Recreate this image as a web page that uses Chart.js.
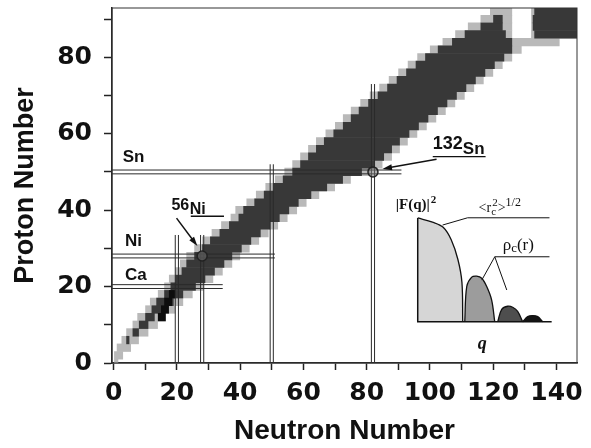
<!DOCTYPE html>
<html>
<head>
<meta charset="utf-8">
<script src="https://cdn.jsdelivr.net/npm/chart.js@4.4.0/dist/chart.umd.min.js"></script>
<style>
  html, body { margin: 0; padding: 0; background: #fff; }
  canvas { display: block; }
</style>
</head>
<body>
<canvas id="chart" width="591" height="448"></canvas>
<script>
// nuclide band, one row per even proton number (each row covers Z-1 .. Z+1)
const protonRows = [0, 2, 4, 6, 8, 10, 12, 14, 16, 18, 20, 22, 24, 26, 28, 30, 32, 34, 36, 38, 40, 42, 44, 46,
  48, 50, 52, 54, 56, 58, 60, 62, 64, 66, 68, 70, 72, 74, 76, 78, 80, 82, 84, 86, 88, 90, 92];
const lightStart = [0, 0, 1, 2.5, 4, 6, 7.5, 10, 11.5, 14, 16, 17.5, 19.5, 21, 23, 25.5, 28, 31, 34, 37, 38.5, 42, 45, 48,
  51, 54, 56.5, 59, 61.5, 64, 67, 70, 72.5, 75, 78, 81, 84, 87, 90, 93, 96, 100, 104, 108, 112, 116, 119];
const darkStart = [0, 1, 2, 4, 6, 8, 10, 12, 13.5, 16, 18, 19.5, 21.5, 23, 25.5, 28, 30.5, 33.5, 36.5, 39.5, 41, 44.5, 47.5, 50.5,
  53.5, 56.5, 59, 61.5, 64, 66.5, 69.5, 72.5, 75, 77.5, 80.5, 83.5, 86.5, 89.5, 92.5, 95.5, 98.5, 102.5, 107, 111, 116, 120, 122];
const darkEnd = [0, 1, 2, 5, 8, 11, 13, 16, 19, 22, 26, 29, 32, 35, 37.5, 40.5, 43.5, 46.5, 49.5, 52.5, 55.5, 58.5, 62.5, 67.5,
  72.5, 78.5, 82.5, 85.5, 88, 90.5, 93.5, 96.5, 99.5, 102.5, 105.5, 108.5, 111.5, 114.5, 117.5, 120.5, 123.5, 126, 126, 124, 123, 123, 122];
const lightEnd = [1.5, 3, 5.5, 8, 11, 14, 16.5, 19.5, 22, 25, 28.5, 31.5, 34.5, 37.5, 40, 43, 46, 49, 52, 55, 58, 61, 65, 70,
  75, 81, 85, 88, 90.5, 93, 96, 99, 102, 105, 108, 111, 114, 117, 120, 123, 126, 129, 141, 126, 126, 126, 126];

// stable core (black)
const coreRows = [12, 14, 16, 18];
const coreStart = [14, 15, 16, 17.5];
const coreEnd = [16.5, 17.5, 18.5, 19.5];

// heavy island right of the gap
const islandRows = [86, 88, 90, 92];
const islandLightStart = [132, 132, 132, 132];
const islandDarkStart = [133, 132.5, 132.5, 133];
const islandEnd = [146.5, 146.5, 146.5, 146.5];

// magic numbers drawn as double lines
const magicProtons = [20, 28, 50];
const magicProtonReach = [34.5, 51, 91];
const magicNeutrons = [20, 28, 50, 82];
const magicNeutronReach = [33.5, 33.5, 52, 73];

// marked doubly magic nuclei
const markedN = [28, 82];
const markedZ = [28, 50];

// axis ticks
const xTicks = [0, 10, 20, 30, 40, 50, 60, 70, 80, 90, 100, 110, 120, 130, 140];
const yTicks = [0, 10, 20, 30, 40, 50, 60, 70, 80, 90];

// inset: form factor lobes, q and |F|^2 as fractions of the inset box
const lobe1Q = [0, 0.11, 0.19, 0.25, 0.30, 0.33, 0.336];
const lobe1F = [1, 0.96, 0.91, 0.79, 0.60, 0.38, 0];
const lobe2Q = [0.351, 0.366, 0.403, 0.440, 0.478, 0.515, 0.552, 0.575];
const lobe2F = [0, 0.34, 0.43, 0.44, 0.42, 0.34, 0.21, 0];
const lobe3Q = [0.597, 0.627, 0.672, 0.709, 0.746, 0.784];
const lobe3F = [0, 0.12, 0.15, 0.14, 0.10, 0];
const lobe4Q = [0.784, 0.821, 0.858, 0.896, 0.933];
const lobe4F = [0, 0.05, 0.06, 0.05, 0];

const insetBox = { n0: 96.15, z0: 10.77, w: 42.34, h: 27.19 };
const toInset = (q, f) => ({ x: insetBox.n0 + q * insetBox.w, y: insetBox.z0 + f * insetBox.h });

function rows(zs, a, b) {
  return zs.map((z, i) => ({ y: z, x: [a[i], b[i]] }));
}

function band(label, data, color, order) {
  return {
    type: 'bar', label, data, indexAxis: 'y', grouped: false,
    backgroundColor: color, borderWidth: 0,
    barPercentage: 1.08, categoryPercentage: 1, order
  };
}

function lobe(qs, fs, fillColor, order) {
  return {
    type: 'line', data: qs.map((q, i) => toInset(q, fs[i])),
    borderColor: '#111', borderWidth: 1.3, pointRadius: 0, tension: 0.35,
    fill: { value: insetBox.z0 }, backgroundColor: fillColor, order
  };
}

const datasets = [
  band('light', rows(protonRows, lightStart, lightEnd), '#b9b9b9', 10),
  band('dark', rows(protonRows, darkStart, darkEnd), '#383838', 9),
  band('core', rows(coreRows, coreStart, coreEnd), '#0d0d0d', 8),
  band('island light', rows(islandRows, islandLightStart, islandEnd), '#b9b9b9', 10),
  band('island dark', rows(islandRows, islandDarkStart, islandEnd), '#383838', 9)
];

magicProtons.forEach((z, i) => {
  [-0.5, 0.5].forEach(d => datasets.push({
    type: 'line', data: [{ x: -0.5, y: z + d }, { x: magicProtonReach[i], y: z + d }],
    borderColor: '#2a2a2a', borderWidth: 1, pointRadius: 0, order: 3
  }));
});
magicNeutrons.forEach((n, i) => {
  [-0.5, 0.5].forEach(d => datasets.push({
    type: 'line', data: [{ x: n + d, y: 0 }, { x: n + d, y: magicNeutronReach[i] }],
    borderColor: '#2a2a2a', borderWidth: 1, pointRadius: 0, order: 3
  }));
});

datasets.push({
  type: 'scatter', data: markedN.map((n, i) => ({ x: n, y: markedZ[i] })),
  pointRadius: 5, pointBorderWidth: 1.5, borderColor: '#222',
  backgroundColor: 'rgba(110,110,110,0.55)', order: 1
});

datasets.push(lobe(lobe1Q, lobe1F, '#d6d6d6', 5));
datasets.push(lobe(lobe2Q, lobe2F, '#9c9c9c', 5));
datasets.push(lobe(lobe3Q, lobe3F, '#4e4e4e', 5));
datasets.push(lobe(lobe4Q, lobe4F, '#151515', 5));

// annotation helpers
function px(chart, n, z) {
  return [chart.scales.x.getPixelForValue(n), chart.scales.y.getPixelForValue(z)];
}
function path(ctx, chart, pts, width) {
  ctx.beginPath();
  pts.forEach((p, i) => {
    const [x, y] = px(chart, p[0], p[1]);
    if (i === 0) ctx.moveTo(x, y); else ctx.lineTo(x, y);
  });
  ctx.lineWidth = width;
  ctx.stroke();
}
function arrow(ctx, chart, from, to) {
  const [x1, y1] = px(chart, from[0], from[1]);
  const [x2, y2] = px(chart, to[0], to[1]);
  const a = Math.atan2(y2 - y1, x2 - x1);
  ctx.beginPath(); ctx.moveTo(x1, y1); ctx.lineTo(x2 - 6 * Math.cos(a), y2 - 6 * Math.sin(a));
  ctx.lineWidth = 1.5; ctx.stroke();
  ctx.beginPath();
  ctx.moveTo(x2, y2);
  ctx.lineTo(x2 - 10 * Math.cos(a - 0.3), y2 - 10 * Math.sin(a - 0.3));
  ctx.lineTo(x2 - 10 * Math.cos(a + 0.3), y2 - 10 * Math.sin(a + 0.3));
  ctx.closePath(); ctx.fill();
}
function text(ctx, chart, str, n, z, font, dy) {
  const [x, y] = px(chart, n, z);
  ctx.font = font;
  ctx.fillText(str, x, y + (dy || 0));
  return x + ctx.measureText(str).width;
}
function textAt(ctx, str, x, y, font) {
  ctx.font = font;
  ctx.fillText(str, x, y);
  return x + ctx.measureText(str).width;
}

const SANS = '"Liberation Sans", Arial, sans-serif';
const SERIF = '"Liberation Serif", "Times New Roman", serif';

const annotations = {
  id: 'annotations',
  afterDatasetsDraw(chart) {
    const ctx = chart.ctx;
    ctx.save();
    ctx.fillStyle = '#111';
    ctx.strokeStyle = '#111';
    ctx.textAlign = 'left';
    ctx.textBaseline = 'alphabetic';

    text(ctx, chart, 'Sn', 2.9, 52.7, 'bold 17px ' + SANS);
    text(ctx, chart, 'Ni', 3.6, 30.5, 'bold 17px ' + SANS);
    text(ctx, chart, 'Ca', 3.6, 21.6, 'bold 17px ' + SANS);

    // 56Ni label
    text(ctx, chart, '56', 18.3, 40.1, 'bold 16px ' + SANS);
    text(ctx, chart, 'Ni', 24.1, 39.0, 'bold 16px ' + SANS);
    path(ctx, chart, [[24.4, 38.4], [34.9, 38.4]], 1.3);
    arrow(ctx, chart, [19.9, 37.9], [26.5, 30.6]);

    // 132Sn label
    text(ctx, chart, '132', 100.9, 56.0, 'bold 18px ' + SANS);
    text(ctx, chart, 'Sn', 110.4, 54.7, 'bold 17px ' + SANS);
    path(ctx, chart, [[100.9, 54.0], [117.6, 54.0]], 1.3);
    arrow(ctx, chart, [102.1, 53.3], [85.0, 50.8]);

    // inset axes
    const o = toInset(0, 0), t = toInset(0, 1), r = toInset(1, 0);
    path(ctx, chart, [[t.x, t.y], [o.x, o.y], [r.x, r.y]], 1.5);

    // inset labels
    let [x, y] = px(chart, 89.2, 40.3);
    x = textAt(ctx, '|F(q)|', x, y, 'bold 15px ' + SERIF);
    textAt(ctx, '2', x + 1, y - 6, 'bold 11px ' + SERIF);

    [x, y] = px(chart, 115.4, 39.6);
    x = textAt(ctx, '<r', x, y, '14px ' + SERIF);
    textAt(ctx, 'c', x, y + 3, '11px ' + SERIF);
    x = textAt(ctx, '2', x + 1, y - 6, '11px ' + SERIF);
    x = textAt(ctx, '>', x, y, '14px ' + SERIF);
    textAt(ctx, '1/2', x, y - 6, '12px ' + SERIF);

    [x, y] = px(chart, 123.0, 29.6);
    x = textAt(ctx, '\u03c1', x, y, '17px ' + SERIF);
    x = textAt(ctx, 'c', x, y + 2, '13px ' + SERIF);
    textAt(ctx, '(r)', x, y, '17px ' + SERIF);

    text(ctx, chart, 'q', 115.1, 3.7, 'italic bold 18px ' + SERIF);

    // pointer lines in inset
    path(ctx, chart, [[104.0, 36.1], [111.9, 38.0], [137.8, 38.0]], 1);
    path(ctx, chart, [[137.8, 27.8], [120.5, 27.8], [116.4, 21.7]], 1);
    path(ctx, chart, [[120.5, 27.8], [124.3, 19.1]], 1);

    ctx.restore();
  },
  afterDraw(chart) {
    const { ctx, chartArea: a } = chart;
    ctx.save();
    ctx.strokeStyle = '#333';
    ctx.lineWidth = 1;
    ctx.strokeRect(a.left, a.top, a.right - a.left, a.bottom - a.top);
    ctx.restore();
  }
};

const tickFont = { family: '"DejaVu Sans", Verdana, sans-serif', size: 25, weight: 'bold' };

new Chart(document.getElementById('chart'), {
  type: 'bar',
  data: { datasets },
  options: {
    responsive: false,
    animation: false,
    devicePixelRatio: 1,
    layout: { padding: { top: 8, right: 14, left: 0, bottom: 0 } },
    plugins: { legend: { display: false }, tooltip: { enabled: false } },
    scales: {
      x: {
        type: 'linear', min: -0.5, max: 146.5, offset: false,
        afterBuildTicks: s => { s.ticks = xTicks.map(v => ({ value: v })); },
        afterFit: s => { s.height = 85; s.paddingLeft = 0; s.paddingRight = 0; },
        ticks: {
          color: '#111', font: tickFont, padding: 8, maxRotation: 0, autoSkip: false,
          callback: v => (v % 20 === 0 ? String(v) : '')
        },
        grid: { offset: false, drawOnChartArea: false, tickLength: 7, tickColor: '#222', tickWidth: 1.5 },
        border: { color: '#222', width: 1.5 },
        title: {
          display: true, text: 'Neutron Number', color: '#111',
          font: { family: SANS, size: 28, weight: 'bold' }, padding: { top: 0, bottom: 0 }
        }
      },
      y: {
        type: 'linear', min: 0, max: 92.9, offset: false,
        afterBuildTicks: s => { s.ticks = yTicks.map(v => ({ value: v })); },
        afterFit: s => { s.width = 112; s.paddingTop = 0; s.paddingBottom = 0; },
        ticks: {
          color: '#111', font: tickFont, padding: 12, autoSkip: false,
          callback: v => (v % 20 === 0 ? String(v) : '')
        },
        grid: { offset: false, drawOnChartArea: false, tickLength: 8, tickColor: '#222', tickWidth: 1.5 },
        border: { color: '#222', width: 1.5 },
        title: {
          display: true, text: 'Proton Number', color: '#111',
          font: { family: SANS, size: 27, weight: 'bold' }, padding: { top: 9, bottom: 0 }
        }
      }
    }
  },
  plugins: [annotations]
});
</script>
</body>
</html>
